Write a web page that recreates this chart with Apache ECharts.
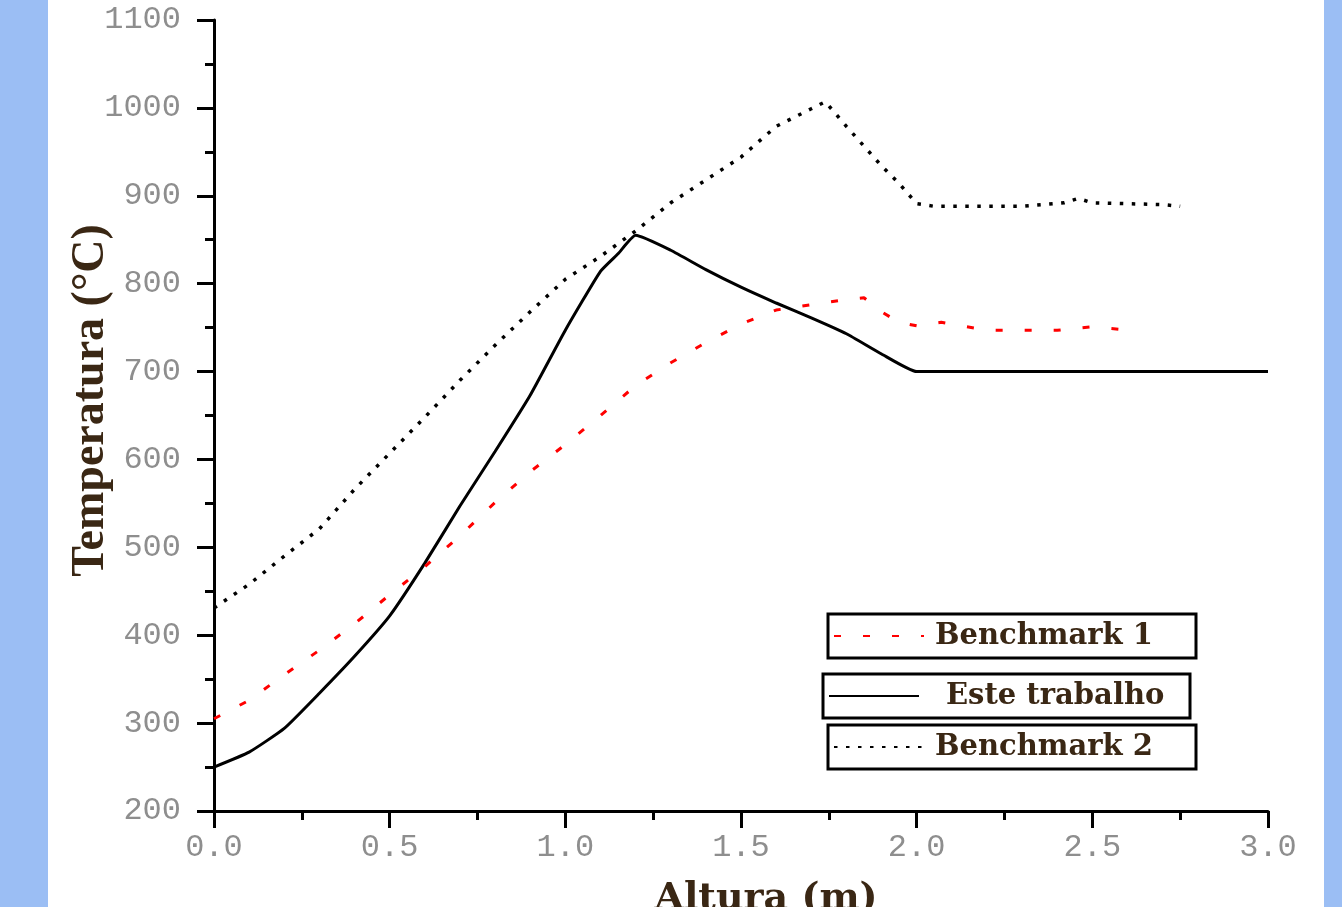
<!DOCTYPE html>
<html>
<head>
<meta charset="utf-8">
<script src="https://cdn.jsdelivr.net/npm/echarts@6/dist/echarts.min.js"></script>
<style>
  html, body { margin: 0; padding: 0; background: #9bbef4; width: 1342px; height: 907px; overflow: hidden; }
  #chart { position: absolute; left: 48px; top: 0; width: 1276px; height: 907px; background: #ffffff; }
</style>
</head>
<body>
<div id="chart"></div>
<script>
// ---- data ----
const seriesNames = ['Benchmark 1', 'Este trabalho', 'Benchmark 2'];

const workX = [0, 0.1, 0.2, 0.3, 0.4, 0.5, 0.6, 0.7, 0.8, 0.9, 1.0, 1.1, 1.15, 1.2, 1.3, 1.4, 1.5, 1.6, 1.7, 1.8, 1.9, 2.0, 3.0];
const workY = [250, 267, 294, 334, 376, 422, 482, 547, 609, 673, 747, 814, 834, 855, 838, 816, 796, 778, 761, 743, 720, 700, 700];

const bench1X = [0, 0.1, 0.2, 0.3, 0.4, 0.5, 0.6, 0.7, 0.8, 0.9, 1.0, 1.1, 1.2, 1.3, 1.4, 1.5, 1.6, 1.7, 1.8, 1.85, 1.9, 1.95, 2.0, 2.07, 2.2, 2.3, 2.4, 2.5, 2.58];
const bench1Y = [305, 326, 355, 383, 413, 446, 478, 513, 551, 586, 617, 650, 684, 710, 733, 754, 770, 776, 782, 784, 768, 756, 752, 756, 747, 747, 747, 751, 748];

const bench2X = [0, 0.1, 0.2, 0.3, 0.4, 0.5, 0.6, 0.7, 0.8, 0.9, 1.0, 1.1, 1.2, 1.3, 1.4, 1.5, 1.6, 1.7, 1.74, 1.8, 1.9, 1.95, 2.0, 2.05, 2.3, 2.42, 2.46, 2.5, 2.7, 2.75];
const bench2Y = [431, 458, 490, 521, 566, 607, 648, 690, 730, 768, 805, 831, 860, 892, 918, 944, 979, 999, 1007, 979, 934, 914, 891, 888, 888, 892, 897, 892, 890, 888];

const xTicks = { min: 0, max: 3, interval: 0.5 };
const yTicks = { min: 200, max: 1100, interval: 100 };

const xTitle = 'Altura (m)';
const yTitle = 'Temperatura (°C)';

function pairs(xs, ys) { return xs.map((x, i) => [x, ys[i]]); }

const textColor = '#3a2714';
const legendFont = 'DejaVu Serif';

function legendBox(name, left, top, textOpts) {
  return {
    show: true,
    data: [name],
    orient: 'horizontal',
    left: left,
    top: top,
    padding: [5, 5, 5, 5],
    borderColor: '#000',
    borderWidth: 3,
    borderRadius: 0,
    backgroundColor: '#fff',
    itemWidth: 90,
    itemHeight: 20,
    icon: 'inherit',
    itemStyle: { opacity: 0 },
    selectedMode: false,
    textStyle: Object.assign({
      fontFamily: legendFont,
      fontWeight: 'bold',
      fontSize: 29,
      color: textColor,
      lineHeight: 34,
      width: 256,
      padding: [0, 0, 0, 6]
    }, textOpts || {})
  };
}

const chart = echarts.init(document.getElementById('chart'), null, { renderer: 'canvas' });

chart.setOption({
  animation: false,
  backgroundColor: '#ffffff',
  grid: { left: 166, right: 56, top: 20, bottom: 96, containLabel: false, outerBoundsMode: 'none' },
  xAxis: {
    type: 'value',
    min: xTicks.min, max: xTicks.max, interval: xTicks.interval,
    name: xTitle,
    nameLocation: 'middle',
    nameGap: 69,
    nameMoveOverlap: false,
    nameTextStyle: {
      fontFamily: 'DejaVu Serif', fontWeight: 'bold', fontSize: 38, color: textColor,
      padding: [0, 0, 0, 50]
    },
    axisLine: { show: true, onZero: false, lineStyle: { color: '#000', width: 3 } },
    axisTick: { show: true, length: 17, lineStyle: { color: '#000', width: 3 } },
    minorTick: { show: true, splitNumber: 2, length: 9, lineStyle: { color: '#000', width: 3 } },
    splitLine: { show: false },
    minorSplitLine: { show: false },
    axisLabel: {
      margin: 21,
      fontFamily: 'Liberation Mono', fontSize: 32, color: '#8e8e8e',
      formatter: v => v.toFixed(1)
    }
  },
  yAxis: {
    type: 'value',
    min: yTicks.min, max: yTicks.max, interval: yTicks.interval,
    name: yTitle,
    nameLocation: 'middle',
    nameRotate: 90,
    nameGap: 100,
    nameMoveOverlap: false,
    nameTextStyle: {
      fontFamily: 'Liberation Serif', fontWeight: 'bold', fontSize: 46, color: textColor,
      padding: [0, 0, 0, 30]
    },
    axisLine: { show: true, onZero: false, lineStyle: { color: '#000', width: 3 } },
    axisTick: { show: true, length: 17, lineStyle: { color: '#000', width: 3 } },
    minorTick: { show: true, splitNumber: 2, length: 9, lineStyle: { color: '#000', width: 3 } },
    splitLine: { show: false },
    minorSplitLine: { show: false },
    axisLabel: {
      margin: 33,
      fontFamily: 'Liberation Mono', fontSize: 32, color: '#8e8e8e',
      formatter: v => String(v)
    }
  },
  legend: [
    legendBox(seriesNames[0], 780, 614),
    legendBox(seriesNames[1], 775, 674, { fontSize: 29, width: 239, padding: [0, 0, 0, 22] }),
    legendBox(seriesNames[2], 780, 725)
  ],
  series: [
    {
      name: seriesNames[0],
      type: 'line',
      data: pairs(bench1X, bench1Y),
      symbol: 'none',
      smooth: false,
      lineStyle: { color: '#ff0000', width: 3, type: [7, 22] },
      itemStyle: { color: '#ff0000' },
      z: 3
    },
    {
      name: seriesNames[1],
      type: 'line',
      data: pairs(workX, workY),
      symbol: 'none',
      smooth: 0.15,
      lineStyle: { color: '#000000', width: 3, type: 'solid' },
      itemStyle: { color: '#000000' },
      z: 2
    },
    {
      name: seriesNames[2],
      type: 'line',
      data: pairs(bench2X, bench2Y),
      symbol: 'none',
      smooth: false,
      lineStyle: { color: '#000000', width: 3.5, type: [3.5, 8.5] },
      itemStyle: { color: '#000000' },
      z: 2
    }
  ]
});
</script>
</body>
</html>
